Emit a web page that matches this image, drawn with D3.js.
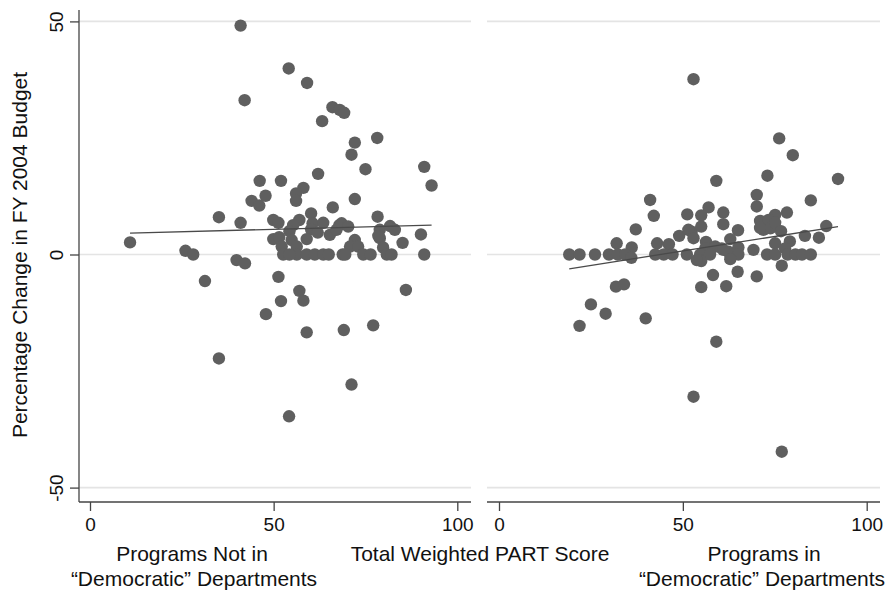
<!DOCTYPE html>
<html>
<head>
<meta charset="utf-8">
<script src="https://cdn.jsdelivr.net/npm/d3@7"></script>
<style>
  body { margin: 0; background: #fff; }
  svg { display: block; font-family: "Liberation Sans", Arial, sans-serif; }
</style>
</head>
<body>
<svg class="chart" width="896" height="590"></svg>
<script>
// Programs not in "Democratic" departments: PART score vs % change in FY 2004 budget
var notDemScore = [41, 54.1, 42.1, 59.1, 66, 68, 69.2, 63.2, 72.1, 78.2, 71.2, 75, 62.1, 91, 93,
    46.2, 52, 58.1, 56.1, 47.8, 44, 46.1, 56.1, 66.1, 72.1, 41, 35.1, 49.9, 51.3, 57,
    60.2, 55.3, 54.3, 60.6, 63.5, 60.2, 62, 65.3, 67.9, 67.1, 49.9, 51.5, 54.9, 59, 52.2,
    56.3, 52.6, 56.3, 59, 61.2, 63.5, 68.8, 39.9, 42.2, 51.3, 78.3, 68.5, 70.3, 78.9, 81.7,
    83, 78.9, 78.5, 90.1, 85.1, 72.1, 70.8, 73, 79.8, 74.4, 76.4, 80.8, 82.1, 91, 10.9,
    26, 28.1, 31.3, 57, 52, 58.1, 47.9, 86, 59, 69.1, 77.1, 71.2, 54.2, 35.1, 54.3,
    65, 69.5]
var notDemChange = [49.1, 39.9, 33.1, 36.8, 31.6, 31, 30.4, 28.6, 24, 25, 21.4, 18.3, 17.3, 18.8, 14.8,
    15.8, 15.8, 14.3, 13.1, 12.6, 11.5, 10.5, 11.5, 10.1, 11.9, 6.8, 8, 7.4, 6.8, 7.4,
    8.8, 6.3, 5, 6.7, 6.8, 5.4, 4.7, 4.2, 6.3, 5.3, 3.3, 3.7, 3.1, 3.3, 1.7,
    1.7, 0, 0, 0, 0, 0, 0, -1.2, -1.9, -4.8, 8.1, 6.7, 6, 5.3, 6.1,
    5.3, 3.5, 4, 4.3, 2.5, 3.1, 1.7, 1.7, 1.5, 0, 0, 0, 0, 0, 2.6,
    0.8, 0, -5.7, -7.8, -10, -9.9, -12.8, -7.6, -16.7, -16.2, -15.2, -27.9, -34.7, -22.3, 0,
    0, 0]

// Programs in "Democratic" departments
var demScore = [52.9, 76.2, 79.9, 73, 92.2, 59.1, 70.1, 41.1, 84.8, 57, 70.1, 42.1, 51.2, 55, 61,
    75.1, 78.3, 37.2, 49, 52.4, 55, 61, 71, 73.3, 71.9, 73.8, 71, 75.1, 76.7, 65,
    89, 83.2, 87, 32, 36.1, 43, 46.2, 56.3, 56.1, 58.8, 60.6, 62.9, 62.4, 64.7, 65.1,
    69.2, 75.1, 79.1, 77.8, 51.5, 52.9, 19.1, 21.9, 26.1, 29.9, 32.3, 34.3, 42.5, 44.8, 47.2,
    51.1, 54.7, 57.4, 62.9, 65.1, 72.9, 75.1, 78.5, 80.6, 82.4, 84.8, 36, 55, 53.8, 62.9,
    76.9, 58.2, 64.9, 70.1, 55, 61.8, 31.8, 34, 25, 29, 21.9, 39.9, 59.1, 52.9, 76.9,
    61]
var demChange = [37.6, 24.9, 21.3, 16.9, 16.2, 15.8, 12.8, 11.7, 11.6, 10.1, 10.3, 8.3, 8.6, 8.4, 9,
    8.5, 9, 5.4, 4, 4.9, 6, 6.5, 7.2, 7.4, 5.3, 5.6, 5.7, 6.8, 5, 5.2,
    6.1, 4, 3.6, 2.4, 1.5, 2.4, 2.2, 2.7, 1.3, 1.7, 1.3, 3.3, 0.6, 0.6, 1.5,
    1, 2.4, 2.8, 1.3, 5.3, 3.5, 0, 0, 0, 0, 0, 0, 0, 0, 0,
    0, 0, 0, 0, 0, 0, 0, 0, 0, 0, 0, -0.7, -1.4, -1.2, -1,
    -2.4, -4.4, -3.7, -4.7, -7, -6.8, -6.9, -6.4, -10.7, -12.7, -15.3, -13.7, -18.7, -30.5, -42.3,
    1]

// linear fits: [intercept, slope]
var notDemFit = [4.37, 0.0207]
var demFit = [-5.45, 0.1242]

var xTicks = [0, 50, 100]
var yTicks = [-50, 0, 50]

var plotTop = 10, plotBottom = 502

var y = d3.scaleLinear().domain([-50, 50]).range([487.6, 21.4])

var panels = [
    { xs: notDemScore, ys: notDemChange, fit: notDemFit, left: 79, right: 471, range: [90, 457.3] },
    { xs: demScore, ys: demChange, fit: demFit, left: 487, right: 880, range: [499, 866.7] }
]

var chart = d3.select(".chart")

panels.forEach(function (p, i) {
    var x = d3.scaleLinear().domain([0, 100]).range(p.range)
    var g = chart.append("g")

    // grid lines
    g.selectAll("line.grid")
        .data(yTicks)
        .enter().append("line")
        .attr("x1", p.left).attr("x2", p.right)
        .attr("y1", d => y(d)).attr("y2", d => y(d))
        .attr("stroke", "#e4e4e4")
        .attr("stroke-width", 1.6)

    // x axis
    var xAxis = g.append("g")
        .attr("transform", `translate(0,${plotBottom})`)
        .call(d3.axisBottom(x).tickValues(xTicks).tickSize(9).tickPadding(7))
    xAxis.select(".domain").remove()
    xAxis.append("line")
        .attr("x1", p.left).attr("x2", p.right)
        .attr("stroke", "#444").attr("stroke-width", 1.3)
    xAxis.selectAll(".tick line").attr("stroke", "#444").attr("stroke-width", 1.3)
    xAxis.selectAll(".tick text").attr("fill", "#111").style("font-size", "19px")
        .attr("font-family", "Liberation Sans, Arial, sans-serif")

    // y axis on the left panel only
    if (i == 0) {
        var yAxis = g.append("g")
            .attr("transform", `translate(${p.left},0)`)
            .call(d3.axisLeft(y).tickValues(yTicks).tickSize(9).tickFormat(d => String(d)))
        yAxis.select(".domain").remove()
        yAxis.append("line")
            .attr("y1", plotTop).attr("y2", plotBottom)
            .attr("stroke", "#444").attr("stroke-width", 1.3)
        yAxis.selectAll(".tick line").attr("stroke", "#444").attr("stroke-width", 1.3)
        yAxis.selectAll(".tick text")
            .attr("fill", "#111").style("font-size", "19px")
            .attr("font-family", "Liberation Sans, Arial, sans-serif")
            .attr("x", null).attr("dy", null)
            .attr("text-anchor", "middle")
            .attr("transform", "translate(-16,0) rotate(-90)")
    }

    // markers
    g.append("g")
        .selectAll("circle")
        .data(d3.zip(p.xs, p.ys))
        .enter().append("circle")
        .attr("cx", d => x(d[0]))
        .attr("cy", d => y(d[1]))
        .attr("r", 6.2)
        .attr("fill", "#5f5f5f")

    // fitted line over the data range
    var ext = d3.extent(p.xs)
    g.append("line")
        .attr("x1", x(ext[0])).attr("y1", y(p.fit[0] + p.fit[1] * ext[0]))
        .attr("x2", x(ext[1])).attr("y2", y(p.fit[0] + p.fit[1] * ext[1]))
        .attr("stroke", "#4a4a4a")
        .attr("stroke-width", 1.3)
})

// titles and captions
var labels = chart.append("g")
    .attr("text-anchor", "middle")
    .attr("fill", "#111")
    .style("font-size", "21px")

labels.append("text")
    .attr("transform", "translate(27,255) rotate(-90)")
    .text("Percentage Change in FY 2004 Budget")

labels.append("text").attr("x", 480).attr("y", 561).text("Total Weighted PART Score")
labels.append("text").attr("x", 192).attr("y", 561).text("Programs Not in")
labels.append("text").attr("x", 194).attr("y", 586).text("\u201cDemocratic\u201d Departments")
labels.append("text").attr("x", 764).attr("y", 561).text("Programs in")
labels.append("text").attr("x", 762).attr("y", 586).text("\u201cDemocratic\u201d Departments")
</script>
</body>
</html>
